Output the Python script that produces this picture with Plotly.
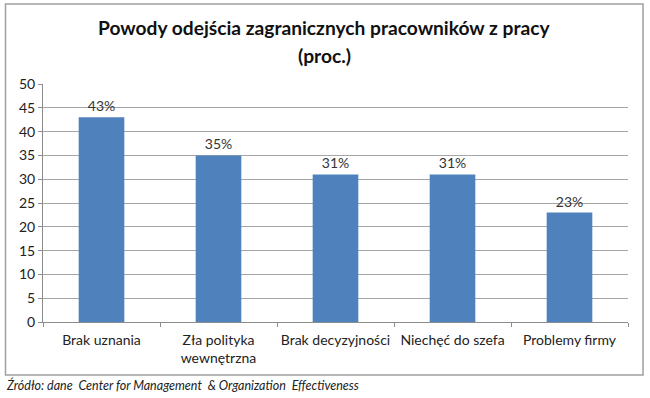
import plotly.graph_objects as go

categories = ["Brak uznania", "Zła polityka<br>wewnętrzna", "Brak decyzyjności", "Niechęć do szefa", "Problemy firmy"]
values = [43, 35, 31, 31, 23]
labels = ["43%", "35%", "31%", "31%", "23%"]
y_ticks = [0, 5, 10, 15, 20, 25, 30, 35, 40, 45, 50]

W, H = 650, 398
L, R, T, B = 43, 22, 84, 76
pw = W - L - R
ph = H - T - B

def px(x):
    return (x - L) / pw

def py(y):
    return (H - B - y) / ph

FONT = "Lato, Open Sans, sans-serif"

fig = go.Figure(go.Bar(
    x=categories, y=values, text=labels, textposition="outside",
    marker=dict(color="#4F81BD", line=dict(width=0)),
    textfont=dict(family=FONT, size=14, color="#333333"),
    cliponaxis=False,
))

fig.update_layout(
    width=W, height=H,
    margin=dict(l=L, r=R, t=T, b=B, autoexpand=False),
    paper_bgcolor="white", plot_bgcolor="white",
    bargap=0.61,
    showlegend=False,
    font=dict(family=FONT, size=14, color="#222222"),
    xaxis=dict(
        showline=True, linecolor="#8c8c8c", linewidth=1,
        ticks="outside", tickson="boundaries", ticklen=4, tickcolor="#8c8c8c",
        tickfont=dict(size=14, color="#222222"),
        tickangle=0, automargin=False, ticklabelstandoff=5,
        showgrid=False,
    ),
    yaxis=dict(
        range=[0, 50], tickvals=y_ticks,
        showline=True, linecolor="#8c8c8c", linewidth=1,
        ticks="outside", ticklen=4, tickcolor="#8c8c8c",
        showgrid=True, gridcolor="#a6a6a6", gridwidth=1,
        tickfont=dict(size=14, color="#222222"),
        zeroline=False, automargin=False,
    ),
    shapes=[dict(
        type="rect", xref="paper", yref="paper",
        x0=px(5.5), x1=px(643), y0=py(375), y1=py(4),
        line=dict(color="#a0a0a0", width=1.5), fillcolor="rgba(0,0,0,0)",
        layer="below",
    )],
    annotations=[
        dict(text="<b>Powody odejścia zagranicznych pracowników z pracy</b>",
             xref="paper", yref="paper", x=px(324), y=py(28),
             xanchor="center", yanchor="middle", showarrow=False,
             font=dict(size=19.2, color="#111111")),
        dict(text="<b>(proc.)</b>",
             xref="paper", yref="paper", x=px(324), y=py(55),
             xanchor="center", yanchor="middle", showarrow=False,
             font=dict(size=19.2, color="#111111")),
        dict(text="<i>Źródło: dane  Center for Management  &amp; Organization  Effectiveness</i>",
             xref="paper", yref="paper", x=px(4), y=py(385),
             xanchor="left", yanchor="middle", showarrow=False,
             font=dict(size=12.5, color="#222222")),
    ],
)

fig.write_html("out.html", config={"displayModeBar": False},
               post_script="document.body.style.margin='0';document.body.style.overflow='hidden';")
